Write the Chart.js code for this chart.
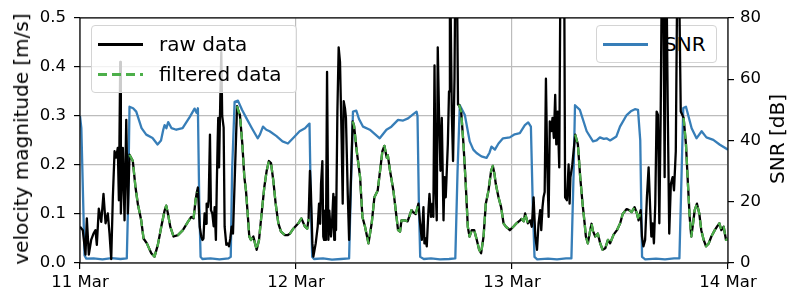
<!DOCTYPE html>
<html>
<head>
<meta charset="utf-8">
<script src="https://cdn.jsdelivr.net/npm/chart.js@4/dist/chart.umd.min.js"></script>
<style>
  html, body { margin: 0; padding: 0; background: #fff; }
  #wrap { position: relative; width: 789px; height: 293px; font-family: "DejaVu Sans", sans-serif; color: #000; }
  #chart { position: absolute; left: 0; top: 0; z-index: 1; }
  .legend { position: absolute; background: rgba(255,255,255,0.8); border: 1px solid #d4d4d4; border-radius: 4px; box-sizing: border-box; }
  .row { position: absolute; left: 0; height: 24px; font-size: 20px; line-height: 24px; white-space: nowrap; }
  .sample { position: absolute; top: 11px; width: 45px; height: 2.5px; }
  .label { position: absolute; top: 0; }
  .title { position: absolute; font-size: 20px; white-space: nowrap; transform: translate(-50%, -50%) rotate(-90deg); z-index: 3; }
</style>
</head>
<body>
<div id="wrap">
  <div class="legend" style="left:596px; top:25px; width:121px; height:38px; z-index:0;">
    <div class="row" style="top:6px;">
      <div class="sample" style="left:6px; background:#377eb8;"></div>
      <div class="label" style="left:67px;">SNR</div>
    </div>
  </div>
  <canvas id="chart" width="789" height="293"></canvas>
  <div class="legend" style="left:91px; top:25px; width:206px; height:68px; z-index:2;">
    <div class="row" style="top:6px;">
      <div class="sample" style="left:6px; background:#000;"></div>
      <div class="label" style="left:67px;">raw data</div>
    </div>
    <div class="row" style="top:36px;">
      <div class="sample" style="left:6px; background:repeating-linear-gradient(to right, #4daf4a 0 9px, transparent 9px 14px);"></div>
      <div class="label" style="left:67px;">filtered data</div>
    </div>
  </div>
  <div class="title" style="left:21px; top:139px;">velocity magnitude [m/s]</div>
  <div class="title" style="left:777px; top:139px;">SNR [dB]</div>
</div>
<script>
// hours since 11 Mar 00:00
const dayLabels = ['11 Mar', '12 Mar', '13 Mar', '14 Mar'];

// filtered velocity (null = removed, low SNR)
const filteredTime = [
  5.5, 5.87, 6.17, 6.43, 6.8, 7.06, 7.43, 7.92, 8.28, 8.65, 9.03, 9.4, 9.58, 9.77, 10.03, 10.4, 10.88, 11.43, 11.99, 12.36, 12.62, 12.84, 12.99,
  15,
  17.45, 17.6, 17.77, 18.04, 18.26, 18.44, 18.63, 18.81, 19.0, 19.26, 19.45, 19.63, 19.89, 20.18, 20.48, 20.74, 20.99, 21.22, 21.48, 21.74, 22.04, 22.33, 22.77, 23.1, 23.33, 23.7, 24.26, 24.6, 25.0, 25.25, 25.4,
  28,
  30.3, 30.45, 30.75, 31.12, 31.38, 31.67, 32.05, 32.41, 32.71, 33.08, 33.34, 33.6, 33.82, 34.08, 34.2, 34.45, 34.82, 35.0, 35.34, 35.56, 35.72, 36.08, 36.4, 36.83, 37.0, 37.3, 37.6,
  40,
  42.12, 42.35, 42.61, 42.86, 43.09, 43.28, 43.53, 43.8, 44.09, 44.35, 44.57, 44.84, 45.09, 45.39, 45.68, 45.87, 46.06, 46.2, 46.5, 46.79, 47.06, 47.32, 47.6, 47.76, 48.2, 48.5, 48.9, 49.06, 49.3, 49.46, 49.76, 50.02,
  52,
  55.02, 55.32, 55.58, 55.84, 56.07, 56.21, 56.43, 56.69, 56.84, 57.0, 57.25, 57.54, 57.8, 58.07, 58.36, 58.66, 58.9, 59.29, 59.66, 60.02, 60.3, 60.74, 61.0, 61.3, 61.62, 61.88, 62.07, 62.2,
  64,
  67.07, 67.33, 67.55, 67.74, 67.92, 68.07, 68.3, 68.55, 68.81, 69.03, 69.3, 69.56, 69.86, 70.15, 70.53, 70.78, 71.04, 71.26, 71.52, 71.78, 72.0
];
const filteredVelocity = [
  0.221, 0.208, 0.154, 0.12, 0.087, 0.05, 0.04, 0.02, 0.013, 0.037, 0.074, 0.107, 0.117, 0.101, 0.074, 0.054, 0.057, 0.067, 0.084, 0.094, 0.091, 0.128, 0.145,
  null,
  0.32, 0.31, 0.302, 0.242, 0.175, 0.148, 0.101, 0.054, 0.047, 0.054, 0.04, 0.027, 0.047, 0.101, 0.155, 0.188, 0.208, 0.204, 0.168, 0.121, 0.081, 0.064, 0.057, 0.057, 0.06, 0.07, 0.081, 0.091, 0.074, 0.07, 0.09,
  null,
  0.289, 0.28, 0.228, 0.175, 0.094, 0.074, 0.04, 0.081, 0.134, 0.148, 0.188, 0.228, 0.239, 0.215, 0.22, 0.188, 0.148, 0.12, 0.067, 0.064, 0.087, 0.087, 0.085, 0.108, 0.104, 0.1, 0.121,
  null,
  0.323, 0.309, 0.242, 0.161, 0.074, 0.054, 0.067, 0.067, 0.047, 0.027, 0.02, 0.054, 0.121, 0.148, 0.188, 0.198, 0.181, 0.161, 0.134, 0.114, 0.081, 0.074, 0.07, 0.067, 0.075, 0.081, 0.087, 0.09, 0.085, 0.101, 0.081, 0.087,
  null,
  0.262, 0.242, 0.175, 0.121, 0.081, 0.054, 0.04, 0.067, 0.08, 0.065, 0.054, 0.06, 0.04, 0.027, 0.03, 0.047, 0.04, 0.058, 0.067, 0.081, 0.1, 0.11, 0.108, 0.104, 0.114, 0.101, 0.087, 0.1,
  null,
  0.296, 0.242, 0.161, 0.094, 0.054, 0.074, 0.108, 0.121, 0.101, 0.067, 0.047, 0.034, 0.04, 0.054, 0.067, 0.074, 0.081, 0.067, 0.074, 0.047, 0.05
];

// raw velocity where SNR is low (removed by the filter)
const noiseTime = [
  0.0, 0.31, 0.61, 0.76, 0.98, 1.24, 1.5, 1.72, 1.87, 2.09, 2.36, 2.61, 2.84, 3.09, 3.28, 3.47, 3.65, 3.84, 4.02, 4.2, 4.32, 4.43, 4.47, 4.54, 4.76, 4.95, 5.14, 5.32,
  13.1, 13.3, 13.47, 13.6, 13.72, 13.84, 14.0, 14.07, 14.21, 14.3, 14.44, 14.55, 14.7, 14.85, 14.96, 15.1, 15.2, 15.29, 15.36, 15.45, 15.59, 15.7, 15.8, 15.96, 16.07, 16.26, 16.4, 16.55, 16.7, 16.85, 17.0,
  25.55, 25.65, 25.82, 25.93, 26.19, 26.41, 26.56, 26.68, 26.78, 26.93, 27.03, 27.12, 27.22, 27.33, 27.45, 27.6, 27.7, 27.89, 28.0, 28.15, 28.25, 28.33, 28.45, 28.6, 28.74, 28.89, 29.08, 29.19, 29.3, 29.44, 29.55, 29.75, 29.9,
  37.79, 37.98, 38.16, 38.27, 38.4, 38.53, 38.72, 38.83, 39.0, 39.16, 39.26, 39.39, 39.5, 39.64, 39.75, 39.9, 40.05, 40.2, 40.39, 40.5, 40.64, 40.87, 41.0, 41.1, 41.31, 41.45, 41.61, 41.75, 41.9, 42.0,
  50.2, 50.4, 50.59, 50.78, 50.95, 51.13, 51.25, 51.39, 51.5, 51.63, 51.77, 51.92, 52.07, 52.2, 52.36, 52.5, 52.65, 52.8, 52.92, 53.07, 53.25, 53.4, 53.6, 53.8, 53.9, 54.1, 54.29, 54.4, 54.49, 54.7,
  62.3, 62.44, 62.6, 62.79, 62.99, 63.18, 63.36, 63.48, 63.62, 63.77, 63.92, 64.07, 64.22, 64.37, 64.52, 64.67, 64.8, 64.96, 65.11, 65.3, 65.47, 65.65, 65.84, 66.0, 66.2, 66.39, 66.55, 66.75
];
const noiseVelocity = [
  0.074, 0.067, 0.017, 0.091, 0.017, 0.047, 0.06, 0.067, 0.037, 0.111, 0.084, 0.141, 0.081, 0.101, 0.06, 0.008, 0.134, 0.228, 0.215, 0.235, 0.128, 0.336, 0.41, 0.101, 0.235, 0.087, 0.292, 0.101,
  0.154, 0.074, 0.054, 0.047, 0.05, 0.101, 0.08, 0.121, 0.114, 0.13, 0.262, 0.108, 0.101, 0.075, 0.114, 0.047, 0.16, 0.242, 0.296, 0.195, 0.336, 0.43, 0.3, 0.276, 0.074, 0.037, 0.04, 0.034, 0.05, 0.074, 0.06,
  0.188, 0.15, 0.04, 0.013, 0.04, 0.074, 0.121, 0.08, 0.161, 0.208, 0.054, 0.047, 0.107, 0.047, 0.39, 0.047, 0.107, 0.054, 0.081, 0.141, 0.047, 0.134, 0.067, 0.309, 0.44, 0.41, 0.242, 0.121, 0.33, 0.316, 0.296, 0.141, 0.047,
  0.081, 0.047, 0.114, 0.04, 0.05, 0.034, 0.108, 0.141, 0.094, 0.121, 0.094, 0.403, 0.161, 0.087, 0.44, 0.296, 0.188, 0.296, 0.087, 0.175, 0.134, 0.242, 0.35, 0.65, 0.309, 0.208, 0.376, 0.7, 0.55, 0.323,
  0.074, 0.134, 0.054, 0.027, 0.081, 0.108, 0.067, 0.114, 0.134, 0.145, 0.376, 0.195, 0.094, 0.289, 0.269, 0.296, 0.255, 0.343, 0.242, 0.309, 0.195, 0.65, 0.7, 0.6, 0.134, 0.128, 0.201, 0.121, 0.175, 0.2,
  0.108, 0.054, 0.034, 0.047, 0.134, 0.195, 0.108, 0.054, 0.081, 0.04, 0.121, 0.309, 0.302, 0.081, 0.302, 0.65, 0.6, 0.175, 0.7, 0.323, 0.06, 0.161, 0.175, 0.148, 0.228, 0.65, 0.6, 0.309
];

// signal to noise ratio [dB]
const snrTime = [
  0, 0.15, 0.5, 0.7, 1.5, 2.5, 3.5, 4.5, 5.2, 5.35, 5.5, 5.9, 6.25, 6.84, 7.36, 8.06, 8.62, 9.0, 9.25, 9.4, 9.6, 9.8, 10.17, 10.7, 11.4, 12.2, 12.73, 12.95, 13.1,
  13.25, 13.4, 13.6, 14.5, 15.5, 16.5, 16.75, 16.9, 17.18, 17.55, 18.0, 18.5, 19.1, 19.74, 20.0, 20.33, 20.7, 21.07, 21.8, 22.5, 23.1, 23.85, 24.4, 25.0, 25.33, 25.5,
  25.65, 25.8, 26.0, 27, 28, 29, 29.9, 30.1, 30.33, 30.7, 31.0, 31.45, 32.2, 32.8, 33.3, 34.05, 34.6, 35.34, 35.9, 36.45, 37.0, 37.4, 37.5,
  37.65, 37.8, 38.2, 39, 40, 41, 41.7, 41.95, 42.2, 42.76, 43.3, 43.7, 44.06, 44.6, 45.17, 45.5, 45.72, 46.1, 46.5, 47, 47.76, 48.3, 48.87, 49.43, 49.8, 50.1,
  50.3, 50.5, 50.8, 52, 53, 54, 54.6, 54.85, 55.0, 55.54, 56.3, 57.0, 57.4, 57.77, 58.2, 58.5, 58.9, 59.6, 60.0, 60.74, 61.2, 61.66, 62.0,
  62.25, 62.45, 62.8, 64, 65, 66, 66.6, 66.85, 67.03, 67.33, 67.96, 68.5, 69.07, 69.6, 70.37, 71.1, 72
];
const snrValues = [
  48, 44, 2.5, 1.4, 1.5, 1.2, 1.6, 1.3, 1.5, 20, 51, 50.5, 49.4, 44, 41.9, 40.8, 38.7, 40, 43.5, 45, 44, 46, 44, 43.5, 44, 47.7, 50.4, 49, 50.5,
  20, 2, 1.3, 1.5, 1.2, 1.5, 2, 30, 52.6, 53, 50, 47.2, 44, 40.7, 42, 44.5, 43.5, 43, 41.5, 39.7, 39, 41.3, 43, 44, 45, 45.5,
  20, 2, 1.3, 1.5, 1.1, 1.3, 1.5, 25, 49.4, 49.7, 47, 44.5, 43.5, 42, 40.7, 43.5, 44.5, 46.7, 46.5, 47.2, 48.5, 49.4, 48,
  20, 2, 1.3, 1.5, 1.2, 1.3, 1.5, 30, 51.5, 48.3, 39.7, 37, 35.9, 34.8, 34.3, 36, 38, 37, 39, 40.7, 41, 42, 42.4, 45, 45.9, 44.5,
  20, 2, 1.2, 1.4, 1.2, 1.5, 1.5, 30, 51.5, 50, 43, 39.7, 40, 41, 40.5, 40.7, 40, 41.3, 44.5, 48.3, 49.5, 50.2, 50,
  40, 2, 1.2, 1.4, 1.2, 1.5, 1.5, 30, 50.6, 51, 44, 40.7, 43, 41, 40.2, 38.6, 37
];

const points = (t, v) => t.map((x, i) => ({ x: x, y: v[i] }));
const filteredPoints = points(filteredTime, filteredVelocity);
const rawPoints = filteredPoints.filter(p => p.y !== null)
  .concat(points(noiseTime, noiseVelocity))
  .sort((a, b) => a.x - b.x);

const tickFont = { family: 'DejaVu Sans', size: 16.5 };

const frame = {
  id: 'frame',
  afterDatasetsDraw(chart) {
    const a = chart.chartArea, ctx = chart.ctx;
    ctx.save();
    ctx.strokeStyle = '#000';
    ctx.lineWidth = 1.2;
    ctx.strokeRect(a.left, a.top, a.right - a.left, a.bottom - a.top);
    ctx.restore();
  }
};

new Chart(document.getElementById('chart'), {
  type: 'line',
  data: {
    datasets: [{
      label: 'filtered data',
      data: filteredPoints,
      borderColor: '#4daf4a',
      borderWidth: 2.3,
      borderDash: [8, 5],
      order: 0
    }, {
      label: 'raw data',
      data: rawPoints,
      borderColor: '#000000',
      borderWidth: 2.3,
      order: 1
    }, {
      label: 'SNR',
      data: points(snrTime, snrValues),
      borderColor: '#377eb8',
      borderWidth: 2.3,
      yAxisID: 'snr',
      order: 2
    }]
  },
  options: {
    responsive: false,
    animation: false,
    devicePixelRatio: 1,
    clip: 0,
    elements: { point: { radius: 0 }, line: { tension: 0, borderCapStyle: 'butt', borderJoinStyle: 'round' } },
    layout: { padding: { top: 15, left: 0, right: 0, bottom: 0 } },
    plugins: { legend: { display: false }, tooltip: { enabled: false } },
    scales: {
      x: {
        type: 'linear',
        min: 0,
        max: 72,
        afterFit: s => { s.height = 30; },
        ticks: {
          stepSize: 24,
          color: '#000',
          font: tickFont,
          padding: 4,
          maxRotation: 0,
          callback: v => dayLabels[v / 24]
        },
        grid: { color: '#bcbcbc', lineWidth: 1.2, tickColor: '#000', tickLength: 6 },
        border: { display: false }
      },
      y: {
        position: 'left',
        min: 0,
        max: 0.5,
        afterFit: s => { s.width = 80; },
        ticks: { stepSize: 0.1, color: '#000', font: tickFont, padding: 8, callback: v => v.toFixed(1) },
        grid: { color: '#bcbcbc', lineWidth: 1.2, tickColor: '#000', tickLength: 6 },
        border: { display: false }
      },
      snr: {
        position: 'right',
        min: 0,
        max: 80,
        afterFit: s => { s.width = 61; },
        ticks: { stepSize: 20, color: '#000', font: tickFont, padding: 6 },
        grid: { drawOnChartArea: false, tickColor: '#000', tickLength: 6, lineWidth: 1.2 },
        border: { display: false }
      }
    }
  },
  plugins: [frame]
});
</script>
</body>
</html>
